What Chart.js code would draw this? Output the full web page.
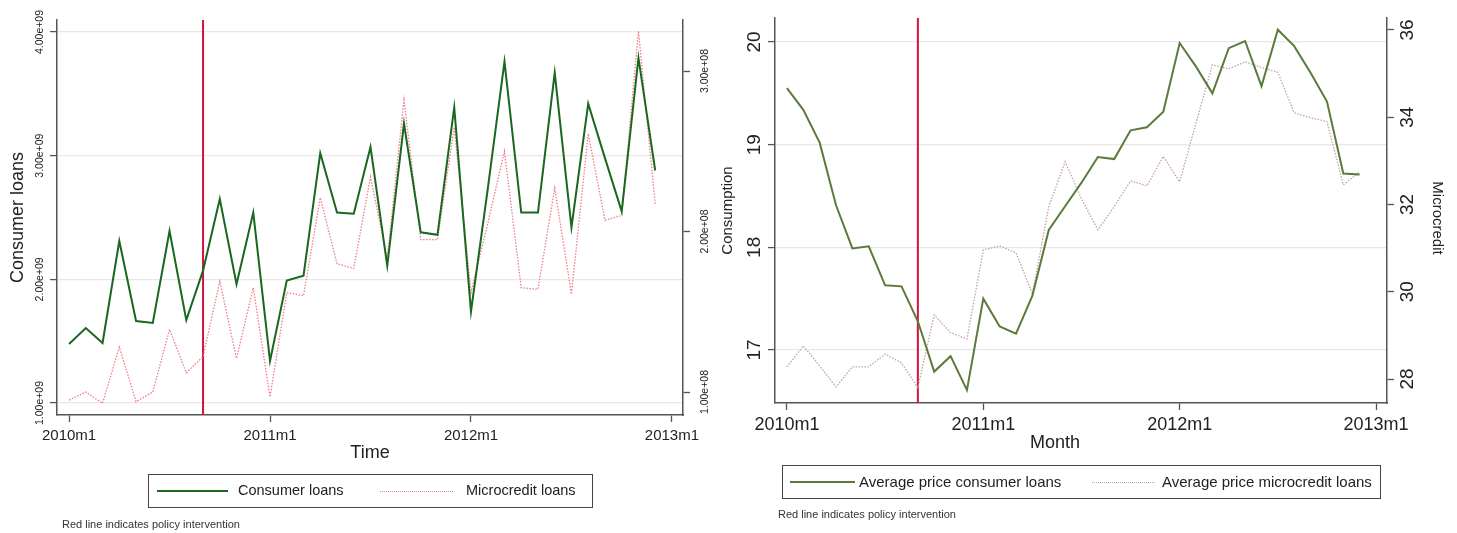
<!DOCTYPE html>
<html>
<head>
<meta charset="utf-8">
<script src="https://cdn.jsdelivr.net/npm/chart.js@4/dist/chart.umd.min.js"></script>
<style>
  body { margin: 0; background: #fff; font-family: "Liberation Sans", Arial, sans-serif; color: #222; }
  #page { position: relative; width: 1457px; height: 533px; overflow: hidden; }
  canvas { position: absolute; top: 0; }
  .box { position: absolute; border: 1.5px solid #444; box-sizing: border-box; }
  .key { position: absolute; height: 0; }
  .lbl { position: absolute; font-size: 15px; line-height: 15px; white-space: nowrap; }
  .note { position: absolute; font-size: 11px; line-height: 11px; color: #333; white-space: nowrap; }
</style>
</head>
<body>
<div id="page">
  <canvas id="left" width="720" height="533" style="left:0"></canvas>
  <canvas id="right" width="737" height="533" style="left:720px"></canvas>

  <div class="box" style="left:148px;top:474px;width:445px;height:34px"></div>
  <div class="key" style="left:157px;top:490px;width:71px;border-top:2px solid #1a671f"></div>
  <div class="lbl" style="left:238px;top:483px;font-size:14.5px">Consumer loans</div>
  <div class="key" style="left:380px;top:491px;width:73px;border-top:1.5px dotted #f07c8c"></div>
  <div class="lbl" style="left:466px;top:483px;font-size:14.5px">Microcredit loans</div>
  <div class="note" style="left:62px;top:519px">Red line indicates policy intervention</div>

  <div class="box" style="left:782px;top:465px;width:599px;height:34px"></div>
  <div class="key" style="left:790px;top:481px;width:65px;border-top:2px solid #5b7a3c"></div>
  <div class="lbl" style="left:859px;top:474px">Average price consumer loans</div>
  <div class="key" style="left:1092px;top:482px;width:63px;border-top:1.5px dotted #c4a0a8"></div>
  <div class="lbl" style="left:1162px;top:474px">Average price microcredit loans</div>
  <div class="note" style="left:778px;top:509px">Red line indicates policy intervention</div>
</div>

<script>
// months 2010m1 .. 2012m12
const months = [
  "2010m1","2010m2","2010m3","2010m4","2010m5","2010m6","2010m7","2010m8","2010m9","2010m10","2010m11","2010m12",
  "2011m1","2011m2","2011m3","2011m4","2011m5","2011m6","2011m7","2011m8","2011m9","2011m10","2011m11","2011m12",
  "2012m1","2012m2","2012m3","2012m4","2012m5","2012m6","2012m7","2012m8","2012m9","2012m10","2012m11","2012m12"
];
const xTickIdx = [0, 12, 24, 36];
const xTickLabels = ["2010m1", "2011m1", "2012m1", "2013m1"];
const policyIdx = 8; // 2010m9

// left panel
const consumerLoans = [
  1.477e9, 1.606e9, 1.485e9, 2.31e9, 1.663e9, 1.647e9, 2.39e9, 1.67e9, 2.07e9, 2.65e9, 1.96e9, 2.54e9,
  1.34e9, 1.99e9, 2.03e9, 3.02e9, 2.54e9, 2.53e9, 3.07e9, 2.11e9, 3.26e9, 2.38e9, 2.36e9, 3.39e9,
  1.74e9, 2.73e9, 3.76e9, 2.54e9, 2.54e9, 3.67e9, 2.42e9, 3.42e9, 2.98e9, 2.55e9, 3.79e9, 2.88e9
];
const microLoans = [
  0.95e8, 1.0e8, 0.93e8, 1.28e8, 0.94e8, 1.0e8, 1.39e8, 1.12e8, 1.22e8, 1.69e8, 1.21e8, 1.65e8,
  0.97e8, 1.62e8, 1.60e8, 2.21e8, 1.80e8, 1.77e8, 2.34e8, 1.83e8, 2.82e8, 1.95e8, 1.95e8, 2.65e8,
  1.62e8, 2.05e8, 2.50e8, 1.65e8, 1.64e8, 2.27e8, 1.61e8, 2.61e8, 2.07e8, 2.10e8, 3.25e8, 2.17e8
];
const consumerTicks = [1e9, 2e9, 3e9, 4e9];
const microTicks = [1e8, 2e8, 3e8];

// right panel
const avgConsumer = [
  19.55, 19.34, 19.02, 18.41, 17.99, 18.01, 17.63, 17.62, 17.28, 16.79, 16.94, 16.61,
  17.50, 17.23, 17.16, 17.53, 18.17, 18.40, 18.63, 18.88, 18.86, 19.14, 19.17, 19.32,
  19.99, 19.76, 19.50, 19.94, 20.01, 19.57, 20.12, 19.96, 19.70, 19.42, 18.72, 18.71
];
const avgMicro = [
  28.28, 28.76, 28.30, 27.82, 28.28, 28.28, 28.57, 28.37, 27.80, 29.47, 29.06, 28.92,
  30.96, 31.05, 30.89, 29.95, 31.95, 32.98, 32.13, 31.42, 31.95, 32.54, 32.43, 33.10,
  32.52, 33.87, 35.20, 35.11, 35.27, 35.14, 35.03, 34.10, 33.99, 33.90, 32.45, 32.75
];
const consumptionTicks = [17, 18, 19, 20];
const microcreditTicks = [28, 30, 32, 34, 36];

const FONT = '"Liberation Sans", Arial, sans-serif';
const AXIS = '#555';

const sci = v => {
  const [m, e] = v.toExponential(2).split('e');
  const n = parseInt(e, 10);
  return m + 'e' + (n < 0 ? '-' : '+') + String(Math.abs(n)).padStart(2, '0');
};

const pts = arr => arr.map((v, i) => ({ x: i, y: v }));
const setTicks = list => s => { s.ticks = list.map(v => ({ value: v })); };

function rotText(ctx, text, x, y, ang) {
  ctx.save();
  ctx.translate(x, y);
  ctx.rotate(ang);
  ctx.fillText(text, 0, 0);
  ctx.restore();
}

// red vertical policy line
const policyLine = {
  id: 'policyLine',
  beforeDatasetsDraw(chart) {
    const a = chart.chartArea, ctx = chart.ctx;
    const x = chart.scales.x.getPixelForValue(policyIdx);
    ctx.save();
    ctx.strokeStyle = '#d3123d';
    ctx.lineWidth = 2;
    ctx.beginPath();
    ctx.moveTo(x, a.top);
    ctx.lineTo(x, a.bottom);
    ctx.stroke();
    ctx.restore();
  }
};

// stata-like tick labels & titles (rotated y labels)
const axisText = {
  id: 'axisText',
  afterDraw(chart, args, o) {
    const ctx = chart.ctx, a = chart.chartArea, s = chart.scales;
    ctx.save();
    ctx.fillStyle = '#222';
    ctx.textAlign = 'center';
    ctx.textBaseline = 'middle';

    ctx.font = o.xFont;
    s.x.ticks.forEach((t, k) => ctx.fillText(xTickLabels[k], s.x.getPixelForValue(t.value), o.xLabelY));
    ctx.font = o.xTitleFont;
    ctx.fillText(o.xTitle, (a.left + a.right) / 2 + (o.xTitleShift || 0), o.xTitleY);

    ctx.font = o.yFont;
    s.y.ticks.forEach(t => rotText(ctx, o.fmt(t.value), o.yLabelX, s.y.getPixelForValue(t.value), -Math.PI / 2));
    s.y1.ticks.forEach(t => rotText(ctx, o.fmt(t.value), o.y1LabelX, s.y1.getPixelForValue(t.value), -Math.PI / 2));

    ctx.font = o.yTitleFont;
    rotText(ctx, o.yTitle, o.yTitleX, (a.top + a.bottom) / 2, -Math.PI / 2);
    if (o.y1Title) rotText(ctx, o.y1Title, o.y1TitleX, o.y1TitleY, Math.PI / 2);
    ctx.restore();
  }
};

function makeChart(id, cfg) {
  return new Chart(document.getElementById(id), {
    type: 'line',
    data: {
      datasets: [
        { label: cfg.names[0], data: pts(cfg.s1), yAxisID: 'y', borderColor: cfg.c1, borderWidth: 2,
          pointRadius: 0, tension: 0, fill: false },
        { label: cfg.names[1], data: pts(cfg.s2), yAxisID: 'y1', borderColor: cfg.c2, borderWidth: 1.3,
          borderDash: [1.5, 1.5], pointRadius: 0, tension: 0, fill: false }
      ]
    },
    options: {
      responsive: false,
      animation: false,
      devicePixelRatio: 1,
      layout: { padding: cfg.pad },
      plugins: { legend: { display: false }, tooltip: { enabled: false }, axisText: cfg.text },
      scales: {
        x: {
          type: 'linear', min: cfg.xMin, max: cfg.xMax,
          afterBuildTicks: setTicks(xTickIdx),
          afterFit: s => { s.height = 0; },
          ticks: { display: false },
          grid: { drawOnChartArea: false, tickLength: 7, tickColor: AXIS, tickWidth: 1.3 },
          border: { color: AXIS, width: 1.5 }
        },
        y: {
          position: 'left', min: cfg.yMin, max: cfg.yMax,
          afterBuildTicks: setTicks(cfg.yTicks),
          afterFit: s => { s.width = 0; },
          ticks: { display: false },
          grid: { color: '#e8e8e8', lineWidth: 1.2, tickLength: 7, tickColor: AXIS, tickWidth: 1.3 },
          border: { color: AXIS, width: 1.5 }
        },
        y1: {
          position: 'right', min: cfg.y1Min, max: cfg.y1Max,
          afterBuildTicks: setTicks(cfg.y1Ticks),
          afterFit: s => { s.width = 0; },
          ticks: { display: false },
          grid: { drawOnChartArea: false, tickLength: 7, tickColor: AXIS, tickWidth: 1.3 },
          border: { color: AXIS, width: 1.5 }
        }
      }
    },
    plugins: [policyLine, axisText]
  });
}

makeChart('left', {
  names: ['Consumer loans', 'Microcredit loans'],
  s1: consumerLoans, s2: microLoans,
  c1: '#1a671f', c2: '#f07c8c',
  pad: { left: 57, top: 20, right: 37, bottom: 118 },
  xMin: -0.72, xMax: 36.66,
  yMin: 0.903e9, yMax: 4.097e9, yTicks: consumerTicks,
  y1Min: 0.857e8, y1Max: 3.318e8, y1Ticks: microTicks,
  text: {
    fmt: sci,
    xFont: '15px ' + FONT, xLabelY: 436,
    xTitle: 'Time', xTitleFont: '18px ' + FONT, xTitleY: 453,
    yFont: '10.5px ' + FONT, yLabelX: 40, y1LabelX: 705,
    yTitle: 'Consumer loans', yTitleFont: '18px ' + FONT, yTitleX: 18
  }
});

makeChart('right', {
  names: ['Average price consumer loans', 'Average price microcredit loans'],
  s1: avgConsumer, s2: avgMicro,
  c1: '#5b7a3c', c2: '#c4a0a8',
  pad: { left: 55, top: 18, right: 70, bottom: 130 },
  xMin: -0.73, xMax: 36.67,
  yMin: 16.484, yMax: 20.234, yTicks: consumptionTicks,
  y1Min: 27.45, y1Max: 36.275, y1Ticks: microcreditTicks,
  text: {
    fmt: v => String(v),
    xFont: '18px ' + FONT, xLabelY: 425,
    xTitle: 'Month', xTitleFont: '18px ' + FONT, xTitleY: 443, xTitleShift: -26,
    yFont: '19px ' + FONT, yLabelX: 35, y1LabelX: 688,
    yTitle: 'Consumption', yTitleFont: '15px ' + FONT, yTitleX: 8,
    y1Title: 'Microcredit', y1TitleX: 717, y1TitleY: 218
  }
});
</script>
</body>
</html>
